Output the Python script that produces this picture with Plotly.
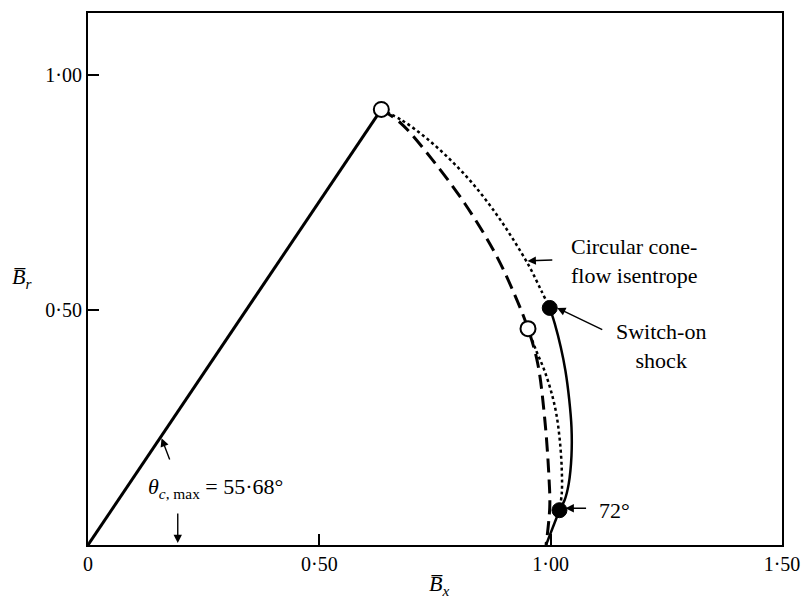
import plotly.graph_objects as go

# ---- data ----
cone_x = [0.0, 0.634]
cone_y = [0.0, 0.926]

dashed_x = [0.634, 0.677, 0.742, 0.815, 0.880, 0.923, 0.951, 0.972, 0.987, 0.996, 0.998, 0.990]
dashed_y = [0.926, 0.896, 0.822, 0.725, 0.620, 0.530, 0.460, 0.386, 0.270, 0.150, 0.080, 0.0]

isen_x = [0.634, 0.680, 0.730, 0.780, 0.830, 0.880, 0.920, 0.955, 0.980, 0.998]
isen_y = [0.926, 0.902, 0.866, 0.822, 0.770, 0.707, 0.648, 0.590, 0.540, 0.504]

lowdot_x = [0.951, 0.968, 0.985, 1.000, 1.012, 1.020, 1.024, 1.024, 1.019]
lowdot_y = [0.460, 0.415, 0.375, 0.330, 0.280, 0.220, 0.160, 0.110, 0.074]

shock_x = [0.998, 1.009, 1.022, 1.032, 1.040, 1.045, 1.045, 1.039, 1.030, 1.019]
shock_y = [0.504, 0.470, 0.420, 0.370, 0.310, 0.250, 0.190, 0.130, 0.095, 0.074]

foot_x = [1.019, 0.990]
foot_y = [0.074, 0.0]

open_x = [0.634, 0.951]
open_y = [0.926, 0.460]
filled_x = [0.998, 1.019]
filled_y = [0.504, 0.074]

x_ticks = [0, 0.5, 1.0, 1.5]
x_ticktext = ["0", "0·50", "1·00", "1·50"]
y_ticks = [0.5, 1.0]
y_ticktext = ["0·50", "1·00"]

FONT = "Liberation Serif"

fig = go.Figure()
fig.add_trace(go.Scatter(x=cone_x, y=cone_y, mode="lines",
                         line=dict(color="black", width=3)))
fig.add_trace(go.Scatter(x=dashed_x, y=dashed_y, mode="lines", line_shape="spline",
                         line=dict(color="black", width=3, dash="14px,7px")))
fig.add_trace(go.Scatter(x=isen_x, y=isen_y, mode="lines", line_shape="spline",
                         line=dict(color="black", width=2.5, dash="dot")))
fig.add_trace(go.Scatter(x=lowdot_x, y=lowdot_y, mode="lines", line_shape="spline",
                         line=dict(color="black", width=2.5, dash="dot")))
fig.add_trace(go.Scatter(x=shock_x, y=shock_y, mode="lines", line_shape="spline",
                         line=dict(color="black", width=2.5)))
fig.add_trace(go.Scatter(x=foot_x, y=foot_y, mode="lines",
                         line=dict(color="black", width=2.5)))
fig.add_trace(go.Scatter(x=open_x, y=open_y, mode="markers",
                         marker=dict(size=15, color="white", line=dict(color="black", width=2))))
fig.add_trace(go.Scatter(x=filled_x, y=filled_y, mode="markers",
                         marker=dict(size=15, color="black", line=dict(color="black", width=1))))

txt = dict(family=FONT, size=22, color="black")
tick = dict(family=FONT, size=20, color="black")

def arrow(x, y, ax, ay):
    fig.add_annotation(x=x, y=y, ax=ax, ay=ay, xref="x", yref="y", axref="x", ayref="y",
                       text=" ", showarrow=True, arrowhead=2, arrowsize=1.2,
                       arrowwidth=1.4, arrowcolor="black", font=dict(size=10))

arrow(0.950, 0.604, 1.010, 0.606)
arrow(1.014, 0.504, 1.118, 0.455)
arrow(1.032, 0.078, 1.083, 0.078)
arrow(0.159, 0.227, 0.183, 0.165)
arrow(0.194, 0.004, 0.194, 0.085)

fig.add_annotation(x=1.040, y=0.604, xref="x", yref="y", xanchor="left", yanchor="middle",
                   text="Circular cone-<br>flow isentrope", showarrow=False, align="left", font=txt)
fig.add_annotation(x=1.238, y=0.424, xref="x", yref="y", xanchor="center", yanchor="middle",
                   text="Switch-on<br>shock", showarrow=False, align="center", font=txt)
fig.add_annotation(x=1.100, y=0.074, xref="x", yref="y", xanchor="left", yanchor="middle",
                   text="72°", showarrow=False, font=txt)
fig.add_annotation(x=0.125, y=0.121, xref="x", yref="y", xanchor="left", yanchor="middle",
                   text="<i>θ</i><sub><i>c</i>, max</sub> = 55·68°", showarrow=False, font=txt)

fig.add_annotation(x=-0.095, y=0.502, xref="paper", yref="paper", xanchor="center", yanchor="middle",
                   text="<i>B\u0305</i><sub><i>r</i></sub>", showarrow=False, font=dict(family=FONT, size=22, color="black"))
fig.add_annotation(x=0.506, y=-0.075, xref="paper", yref="paper", xanchor="center", yanchor="middle",
                   text="<i>B\u0305</i><sub><i>x</i></sub>", showarrow=False, font=dict(family=FONT, size=22, color="black"))

fig.update_xaxes(range=[0, 1.5], tickvals=x_ticks, ticktext=x_ticktext, ticks="inside", ticklen=11,
                 tickwidth=2, tickcolor="black", showline=True, linecolor="black", linewidth=2,
                 mirror=True, showgrid=False, zeroline=False, tickfont=tick)
fig.update_yaxes(range=[0, 1.131], tickvals=y_ticks, ticktext=y_ticktext, ticks="inside", ticklen=11,
                 tickwidth=2, tickcolor="black", showline=True, linecolor="black", linewidth=2,
                 mirror=True, showgrid=False, zeroline=False, tickfont=tick)

fig.update_layout(width=811, height=605, margin=dict(l=88, r=25, t=11, b=60),
                  plot_bgcolor="white", paper_bgcolor="white", showlegend=False)

fig.write_html("out.html")
